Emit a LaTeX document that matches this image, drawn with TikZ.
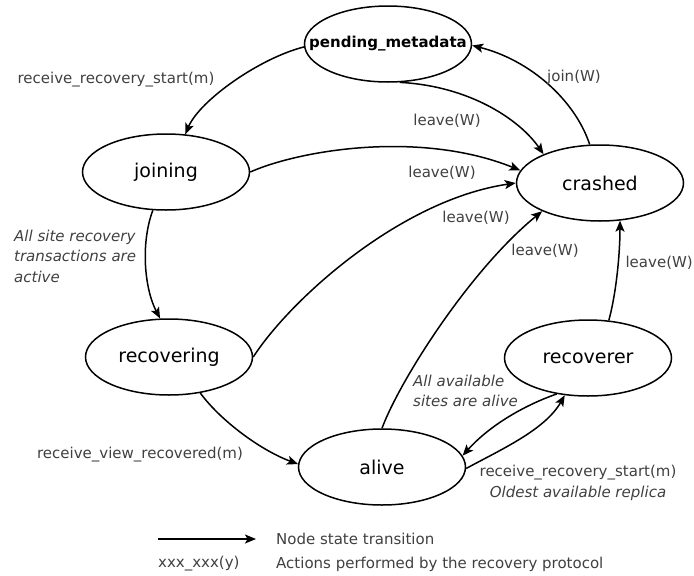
\documentclass[tikz,border=0pt]{standalone}
\usepackage{fontspec}
\setmainfont{DejaVu Sans}
\usetikzlibrary{arrows.meta,shapes.geometric}
\definecolor{labelgray}{RGB}{64,64,64}

\tikzset{
  state/.style={ellipse, draw, line width=1.5pt, minimum width=167pt, minimum height=76pt,
    inner sep=0pt, font=\fontsize{19}{23}\selectfont},
  trans/.style={line width=1.5pt, -{Stealth[length=11pt,width=9pt,inset=2.5pt]}},
  lbl/.style={text=labelgray, inner sep=0pt, font=\fontsize{15}{20.5}\selectfont},
  cond/.style={lbl, align=left, font=\fontsize{15}{20.5}\selectfont\itshape}
}
% keep the ellipse size independent of the state name
\newcommand{\statename}[1]{\makebox[0pt]{#1}}

\begin{document}
\begin{tikzpicture}[x=1pt, y=-1pt]
		\useasboundingbox (0,0) rectangle (694,576);
		
		% node states
		\node[state, font=\fontsize{15}{18}\selectfont\bfseries] (pend) at (388,44) {\statename{pending\_metadata}};
		\node[state] (join) at (166,172) {\statename{joining}};
		\node[state] (crash) at (600,183) {\statename{crashed}};
		\node[state] (recov) at (169,357) {\statename{recovering}};
		\node[state] (rcvr) at (588,358) {\statename{recoverer}};
		\node[state] (alive) at (382,467) {\statename{alive}};
		
		% transitions
		\draw[trans] (pend.182) .. controls (260,58) and (200,100) .. (join.63);
		\draw[trans] (pend.287) .. controls (470,86) and (520,120) .. (crash.153);
		\draw[trans] (crash.105) .. controls (575,100) and (530,60) .. (pend.359);
		\draw[trans] (join.0) .. controls (300,150) and (420,130) .. (crash.171);
		\draw[trans] (recov.0) .. controls (290,300) and (400,200) .. (crash.180);
		\draw[trans] (alive.90) .. controls (400,380) and (470,270) .. (crash.206);
		\draw[trans] (rcvr.61) .. controls (617,290) and (620,250) .. (crash.298);
		\draw[trans] (join.251) .. controls (140,245) and (145,290) .. (recov.103);
		\draw[trans] (recov.311) .. controls (220,420) and (260,450) .. (alive.178);
		\draw[trans] (rcvr.229) .. controls (525,405) and (490,425) .. (alive.8);
		\draw[trans] (alive.359) .. controls (500,450) and (545,430) .. (rcvr.238);
		
		% protocol actions and conditions
		\node[lbl] (startj) at (116,80) {receive\_recovery\_start(m)};
		\node[lbl] (leavep) at (447,121) {leave(W)};
		\node[lbl] (joinw) at (574,77) {join(W)};
		\node[lbl] (leavej) at (442,173) {leave(W)};
		\node[lbl] (leaverc) at (476,218) {leave(W)};
		\node[lbl] (leavea) at (545,251) {leave(W)};
		\node[lbl, anchor=east] (leaver) at (693,263) {leave(W)};
		\node[cond, anchor=west] (allsite) at (14,256) {All site recovery\\transactions are\\active};
		\node[cond, anchor=west] (allavail) at (413,391) {All available\\sites are alive};
		\node[lbl] (viewrec) at (140,455) {receive\_view\_recovered(m)};
		\node[lbl, align=center] (starta) at (578,483) {receive\_recovery\_start(m)\\\textit{Oldest available replica}};
		
		% legend
		\coordinate (keyfrom) at (158,539);
		\coordinate (keyto) at (256,539);
		\draw[trans] (keyfrom) -- (keyto);
		\node[lbl, anchor=west] (keytrans) at (276,539) {Node state transition};
		\node[lbl, anchor=west] (keyact) at (158,564) {xxx\_xxx(y)};
		\node[lbl, anchor=west] (keyactdesc) at (276,564) {Actions performed by the recovery protocol};
	\end{tikzpicture}
\end{document}
